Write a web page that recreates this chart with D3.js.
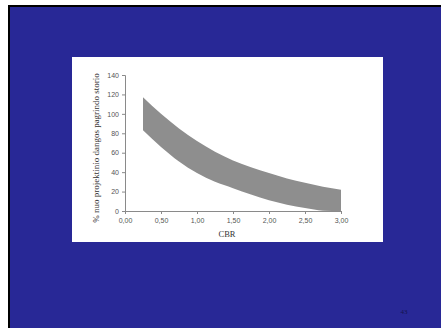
<!DOCTYPE html>
<html>
<head>
<meta charset="utf-8">
<script src="https://cdn.jsdelivr.net/npm/d3@7"></script>
<style>
  html, body { margin: 0; padding: 0; background: #fff; }
  svg { display: block; }
</style>
</head>
<body>
<svg id="slide" width="441" height="328"></svg>
<script>
// CBR values and the band limits (% of design base thickness)
const cbr   = [0.25, 0.5, 0.75, 1.0, 1.25, 1.5, 1.75, 2.0, 2.25, 2.5, 2.75, 3.0];
const upper = [117, 100, 85, 72, 61, 52, 45, 39, 33.5, 29, 25, 22];
const lower = [83, 66, 51, 39, 30, 23.5, 17, 11, 6.5, 3, 0.3, 0];
const xTicks = [0, 0.5, 1.0, 1.5, 2.0, 2.5, 3.0];
const yTicks = [0, 20, 40, 60, 80, 100, 120, 140];
const yTitle = "% nuo projektinio dangos pagrindo storio";
const xTitle = "CBR";
const pageNo = "43";

const svg = d3.select("#slide");

// slide background with dark frame
svg.append("rect").attr("x", 8).attr("y", 5).attr("width", 433).attr("height", 323).attr("fill", "#000");
svg.append("rect").attr("x", 10).attr("y", 7).attr("width", 431).attr("height", 321).attr("fill", "#282896");

// white chart panel
svg.append("rect").attr("x", 72).attr("y", 57).attr("width", 311).attr("height", 185).attr("fill", "#fff");

const x = d3.scaleLinear().domain([0, 3]).range([125, 341]);
const y = d3.scaleLinear().domain([0, 140]).range([211, 75]);

const band = cbr.map((c, i) => ({ c, lo: lower[i], hi: upper[i] }));
const area = d3.area()
  .x(d => x(d.c))
  .y0(d => y(d.lo))
  .y1(d => y(d.hi))
  .curve(d3.curveMonotoneX);

svg.append("path")
  .datum(band)
  .attr("d", area)
  .attr("fill", "#8e8e8e");

const tickFont = "'Liberation Sans', Arial, sans-serif";
const titleFont = "'Liberation Serif', 'Times New Roman', serif";

const yAxis = svg.append("g")
  .attr("transform", `translate(${x(0)},0)`)
  .call(d3.axisLeft(y).tickValues(yTicks).tickSize(3).tickPadding(3));
const xAxis = svg.append("g")
  .attr("transform", `translate(0,${y(0)})`)
  .call(d3.axisBottom(x).tickValues(xTicks).tickSize(3).tickPadding(4)
    .tickFormat(d => d3.format(".2f")(d).replace(".", ",")));

[yAxis, xAxis].forEach(g => {
  g.select(".domain").attr("stroke", "#8a8a8a");
  g.selectAll(".tick line").attr("stroke", "#8a8a8a");
  g.selectAll(".tick text")
    .attr("fill", "#555")
    .attr("font-family", tickFont)
    .attr("font-size", 7);
});

svg.append("text")
  .attr("transform", `translate(99,148) rotate(-90)`)
  .attr("text-anchor", "middle")
  .attr("font-family", titleFont)
  .attr("font-size", 9)
  .attr("fill", "#333")
  .text(yTitle);

svg.append("text")
  .attr("x", 227).attr("y", 237)
  .attr("text-anchor", "middle")
  .attr("font-family", titleFont)
  .attr("font-size", 8.5)
  .attr("fill", "#333")
  .text(xTitle);

svg.append("text")
  .attr("x", 404).attr("y", 314)
  .attr("text-anchor", "middle")
  .attr("font-family", titleFont)
  .attr("font-size", 7)
  .attr("fill", "#141450")
  .text(pageNo);
</script>
</body>
</html>
